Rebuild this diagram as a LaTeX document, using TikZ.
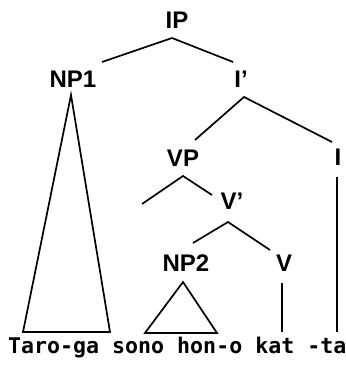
\documentclass[tikz,border=0pt]{standalone}
\usepackage{fontspec}
\setmainfont{Liberation Sans}
\newfontfamily\wordfont{DejaVu Sans Mono}
\begin{document}
\begin{tikzpicture}[x=1pt,y=1pt,
  lab/.style={inner sep=0pt,font=\bfseries\fontsize{24}{24}\selectfont},
  edge/.style={line width=1.7pt,line join=miter}]
\useasboundingbox (0,0) rectangle (345,-366);
% labels
\node[lab] (IP) at (177,-20) {IP};
\node[lab] (NP1) at (73,-79) {NP1};
\node[lab] (Ibar) at (241,-79) {I'};
\node[lab] (VP) at (183,-158) {VP};
\node[lab] (I) at (338,-157) {I};
\node[lab] (Vbar) at (232,-201) {V'};
\node[lab] (NP2) at (186,-263) {NP2};
\node[lab] (V) at (284,-263) {V};
\node[anchor=base west,inner sep=0pt,font=\wordfont\bfseries\fontsize{21.6}{21.6}\selectfont] (words) at (8,-353) {Taro-ga sono hon-o kat -ta};
% attachment points
\coordinate (IPb) at (172,-38);
\coordinate (NP1t) at (102,-62);
\coordinate (Ibart) at (233,-62);
\coordinate (Ibarb) at (244,-97);
\coordinate (VPt) at (195,-140);
\coordinate (It) at (332,-142);
\coordinate (VPb) at (183,-176);
\coordinate (VPl) at (142,-204);
\coordinate (VPr) at (212,-195);
\coordinate (Vbarb) at (228,-222);
\coordinate (NP2t) at (193,-243);
\coordinate (Vt) at (270,-250);
\coordinate (NPapex) at (71,-95);
\coordinate (NPbl) at (23,-332);
\coordinate (NPbr) at (110,-332);
\coordinate (NQapex) at (183,-282);
\coordinate (NQbl) at (145,-333);
\coordinate (NQbr) at (217,-333);
\coordinate (Vb) at (282,-283);
\coordinate (Vw) at (282,-332);
\coordinate (Ib) at (337,-177);
\coordinate (Iw) at (337,-332);
% edges
\draw[edge] (NP1t) -- (IPb) -- (Ibart);
\draw[edge] (VPt) -- (Ibarb) -- (It);
\draw[edge] (VPl) -- (VPb) -- (VPr);
\draw[edge] (NP2t) -- (Vbarb) -- (Vt);
\draw[edge] (NPapex) -- (NPbl) -- (NPbr) -- cycle;
\draw[edge] (NQapex) -- (NQbl) -- (NQbr) -- cycle;
\draw[edge] (Vb) -- (Vw);
\draw[edge] (Ib) -- (Iw);
\end{tikzpicture}
\end{document}
